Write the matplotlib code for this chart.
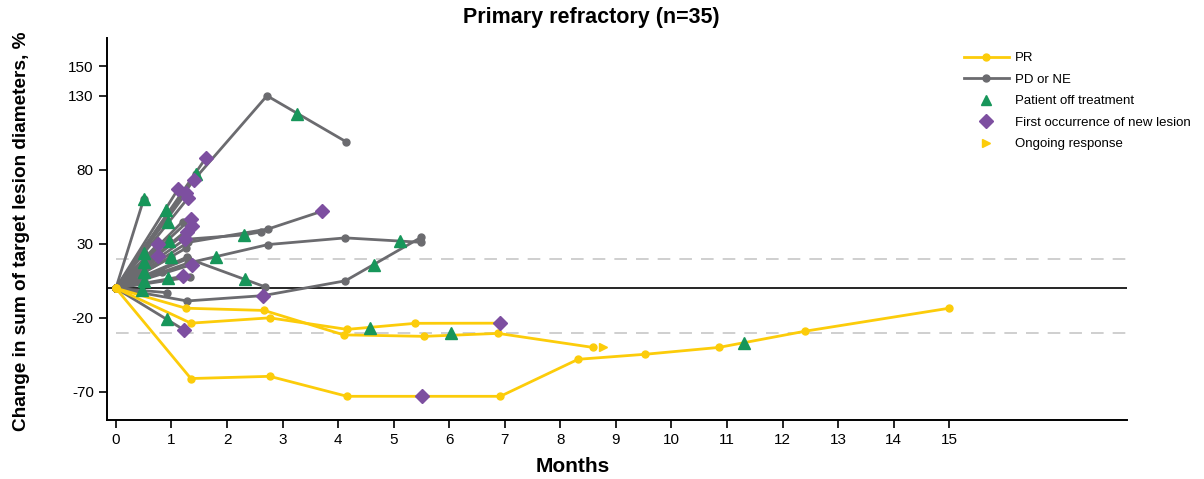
import matplotlib
matplotlib.use("Agg")
import matplotlib.pyplot as plt
from matplotlib.lines import Line2D

plt.rcParams['font.family'] = ['Liberation Sans', 'DejaVu Sans']
plt.rcParams['axes.unicode_minus'] = False

# Partial responders (PR)
pr_months = [
    [0, 1.26, 2.67, 4.10, 5.55, 6.88, 8.59],
    [0, 1.35, 2.77, 4.16, 5.39, 6.92],
    [0, 1.35, 2.77, 4.16, 5.51, 6.92, 8.32, 9.53, 10.85, 12.41, 15.0],
]
pr_values = [
    [0, -13.5, -15, -31.5, -32.5, -30.5, -40],
    [0, -23.6, -20, -27.8, -23.7, -23.6],
    [0, -61, -59.5, -73, -73, -73, -48, -44.6, -40, -29, -13.5],
]

# Progressive disease or not evaluable
pd_months = [
    [0, 1.40, 2.72, 4.14],
    [0, 0.50],
    [0, 1.62],
    [0, 1.44],
    [0, 1.12],
    [0, 1.26],
    [0, 1.30],
    [0, 1.20],
    [0, 1.35],
    [0, 1.37],
    [0, 1.28],
    [0, 1.24, 2.30, 2.61],
    [0, 1.30, 2.74, 3.71],
    [0, 0.76],
    [0, 0.76],
    [0, 1.26],
    [0, 1.28],
    [0, 1.30, 2.68],
    [0, 1.30, 2.74, 4.13, 5.50],
    [0, 1.28, 2.65, 4.13, 5.50],
    [0, 1.37],
    [0, 1.20],
    [0, 1.33],
    [0, 0.83],
    [0, 0.92],
    [0, 1.22],
    [0, 0.50],
    [0, 0.50],
    [0, 0.96],
    [0, 1.00],
    [0, 0.50],
    [0, 0.50],
]
pd_values = [
    [0, 73, 130, 99],
    [0, 60],
    [0, 88],
    [0, 77],
    [0, 67],
    [0, 64],
    [0, 61],
    [0, 45],
    [0, 47],
    [0, 42],
    [0, 38],
    [0, 33, 36, 38],
    [0, 31, 40, 52],
    [0, 30],
    [0, 22],
    [0, 27],
    [0, 21],
    [0, 20, 1],
    [0, 17, 29.5, 34, 31],
    [0, -8.6, -5, 5, 34.5],
    [0, 16],
    [0, 8],
    [0, 7.5],
    [0, 11],
    [0, -3],
    [0, -28],
    [0, 24],
    [0, 18],
    [0, 32],
    [0, 21],
    [0, 11],
    [0, 5],
]

# Patient off treatment
off_months = [3.26, 0.50, 1.44, 0.90, 0.94, 2.30, 2.32, 1.80, 5.12, 4.65, 0.47,
              0.92, 0.50, 0.50, 0.96, 1.00, 0.50, 0.50, 0.94, 4.58, 6.04, 11.3]
off_values = [118, 60, 77, 53, 45, 36, 6, 21, 32, 16, -1.5,
              -21, 24, 18, 32, 21, 11, 5, 7, -27, -30, -37]

# First occurrence of new lesion
lesion_months = [1.41, 1.62, 1.12, 1.26, 1.30, 1.35, 1.37, 1.28, 3.71, 0.76,
                 0.76, 1.24, 1.37, 1.20, 2.65, 1.22, 6.92, 5.51]
lesion_values = [73, 88, 67, 64, 61, 47, 42, 38, 52, 30,
                 22, 33, 16, 8, -5, -28, -23.6, -73]

# Ongoing response
ongoing_months = [8.77]
ongoing_values = [-40]

yticks = [-70, -20, 30, 80, 130, 150]
xticks = list(range(16))

yellow = "#fccc0a"
gray = "#6b6b6f"
green = "#17965a"
purple = "#7d4fa0"

fig = plt.figure(figsize=(12.04, 4.79), dpi=100)
ax = fig.add_axes([107 / 1204, 59 / 479, 1020 / 1204, 382 / 479])

# Reference lines
ax.axhline(0, color="black", lw=1.2, zorder=1)
ax.hlines([20, -30], 0, 18.2, colors="#cccccc", linestyles=(0, (7, 5)), lw=1.3, zorder=1)

# Gray lines first, yellow on top
for m, v in zip(pd_months, pd_values):
    ax.plot(m, v, color=gray, lw=2, marker="o", markersize=5, zorder=2)
for m, v in zip(pr_months, pr_values):
    ax.plot(m, v, color=yellow, lw=2, marker="o", markersize=5, zorder=3)

ax.plot(off_months, off_values, ls="none", marker="^", color=green, markersize=8, zorder=5)
ax.plot(lesion_months, lesion_values, ls="none", marker="D", color=purple, markersize=7, zorder=5)
ax.plot(ongoing_months, ongoing_values, ls="none", marker=">", color=yellow, markersize=6, zorder=5)

# Axes styling
ax.set_xlim(-0.16, 18.2)
ax.set_ylim(-89, 169)
ax.set_xticks(xticks)
ax.set_yticks(yticks)
ax.tick_params(labelsize=11, length=6, width=1.2, direction="out")
for s in ["top", "right"]:
    ax.spines[s].set_visible(False)
for s in ["left", "bottom"]:
    ax.spines[s].set_linewidth(1.4)

fig.text(591 / 1204, 1 - 18 / 479, "Primary refractory (n=35)", ha="center", va="center",
         fontsize=15.5, fontweight="bold")
fig.text(573 / 1204, 1 - 466 / 479, "Months", ha="center", va="center",
         fontsize=15, fontweight="bold")
fig.text(22 / 1204, 1 - 231 / 479, "Change in sum of target lesion diameters, %", ha="center",
         va="center", rotation=90, fontsize=13.7, fontweight="bold")

# Legend
handles = [
    Line2D([], [], color=yellow, lw=2, marker="o", markersize=5),
    Line2D([], [], color=gray, lw=2, marker="o", markersize=5),
    Line2D([], [], ls="none", marker="^", color=green, markersize=7),
    Line2D([], [], ls="none", marker="D", color=purple, markersize=7),
    Line2D([], [], ls="none", marker=">", color=yellow, markersize=6),
]
labels = ["PR", "PD or NE", "Patient off treatment", "First occurrence of new lesion",
          "Ongoing response"]
fig.legend(handles, labels, loc="upper left", bbox_to_anchor=(964 / 1204, 1 - 52 / 479),
           frameon=False, fontsize=9.5, handlelength=3.4, handletextpad=0.45,
           labelspacing=0.7, borderpad=0, borderaxespad=0)

fig.savefig("out.png", dpi=100)
